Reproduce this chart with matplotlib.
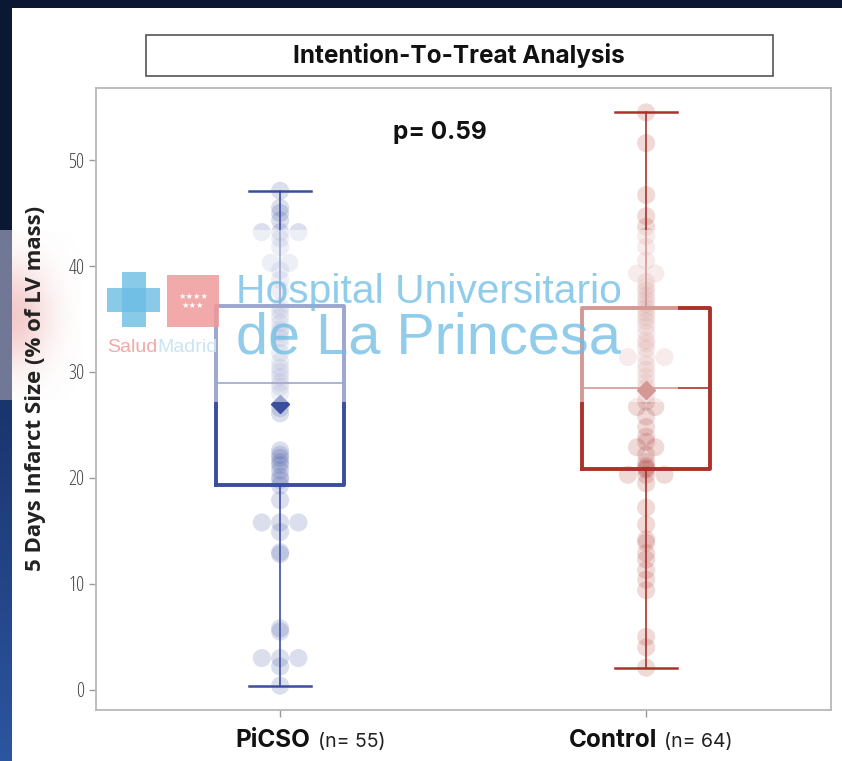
import numpy as np
import matplotlib
matplotlib.use("Agg")
import matplotlib.pyplot as plt
from matplotlib.patches import Rectangle

# values
groups = ["PiCSO", "Control"]
group_n = ["(n= 55)", "(n= 64)"]

picso = [47.1, 45.5, 45.0, 44.3, 43.2, 43.2, 43.2, 42.6, 41.8, 40.3, 40.3, 39.6, 38.7, 37.7,
         36.2, 35.8, 35.2, 34.6, 34.0, 33.7, 33.2, 32.7, 31.8, 31.0, 30.4, 30.0, 29.5,
         29.0,
         28.6, 28.0, 26.6, 26.1, 22.6, 22.2, 21.9, 21.5, 21.2, 20.7, 20.1, 19.8,
         19.3,
         17.9, 15.8, 15.8, 15.8, 14.9, 13.0, 12.8, 5.8, 5.5, 3.0, 3.0, 3.0, 2.2, 0.4]
control = [54.5, 51.6, 46.7, 44.7, 43.7, 42.8, 41.8, 40.5, 39.3, 39.3, 38.5, 38.0, 37.7, 37.2, 36.8, 36.4,
           36.0,
           35.6, 35.2, 34.8, 34.3, 33.7, 33.0, 32.7, 32.2, 31.4, 31.4, 31.4, 30.7, 30.2, 29.6, 29.0,
           28.5, 27.8, 27.2, 26.7, 26.7, 25.8, 24.8, 23.9, 23.4, 22.9, 22.9, 22.2, 21.5, 21.1, 20.9,
           20.8,
           20.3, 20.3, 20.3, 19.5, 17.2, 15.6, 14.2, 13.9, 12.9, 12.3, 11.3, 10.4, 9.4, 5.0, 4.0, 2.1]

# box summary as drawn in the reference
q1 = [19.3, 20.8]
medians = [29.0, 28.5]
q3 = [36.2, 36.0]
whisker_lo = [0.4, 2.1]
whisker_hi = [47.1, 54.5]
means = [27.0, 28.3]

p_value = 0.59
yticks = [0, 10, 20, 30, 40, 50]

colors = ["#3a4e9e", "#a9332b"]
W, H = 842, 761
NARROW = dict(family="Open Sans", fontstretch="condensed")
WIDE = ["Inter", "Lato"]

fig = plt.figure(figsize=(W / 100, H / 100), dpi=100)
fig.patch.set_facecolor("#0b1733")

# slide panel
fig.add_artist(Rectangle((12 / W, 0), 1 - 12 / W, (H - 8) / H, transform=fig.transFigure,
                         fc="white", ec="none", zorder=-2))

# left strip of the slide background
strip = fig.add_axes([0, 0, 12 / W, 1])
rows = np.zeros((H, 1, 3))
top = np.array([11, 24, 52]) / 255
mid = np.array([112, 120, 150]) / 255
lo_a = np.array([26, 52, 108]) / 255
lo_b = np.array([44, 86, 160]) / 255
rows[:230, 0] = top
rows[230:400, 0] = mid
t = np.linspace(0, 1, H - 400)[:, None]
rows[400:, 0] = lo_a * (1 - t) + lo_b * t
strip.imshow(rows, aspect="auto", extent=(0, 1, 0, H), origin="upper")
strip.axis("off")

# pink glow spilling on the panel
glow = fig.add_axes([12 / W, 1 - 400 / H, 70 / W, 170 / H])
gy, gx = np.mgrid[0:170, 0:70]
d = np.hypot(gx / 55.0, (gy - 85) / 75.0)
rgba = np.zeros((170, 70, 4))
rgba[..., :3] = np.array([232, 150, 150]) / 255
rgba[..., 3] = 0.5 * np.exp(-d ** 2 * 2.2)
glow.imshow(rgba, aspect="auto")
glow.axis("off")

ax = fig.add_axes([96 / W, 51 / H, 735 / W, 622 / H])
ax.set_xlim(-0.503, 1.505)
ax.set_ylim(-1.9, 56.8)

stats = []
for i in range(2):
    stats.append(dict(q1=q1[i], med=medians[i], q3=q3[i], whislo=whisker_lo[i],
                      whishi=whisker_hi[i], mean=means[i], fliers=[]))

for i, st in enumerate(stats):
    c = colors[i]
    ax.bxp([st], positions=[i], widths=0.35, showmeans=True, capwidths=[0.17],
           boxprops=dict(color=c, lw=2.8),
           medianprops=dict(color=c, lw=1.2),
           whiskerprops=dict(color=c, lw=1.2),
           capprops=dict(color=c, lw=1.8),
           meanprops=dict(marker="D", markerfacecolor=c, markeredgecolor=c, markersize=9))

# points, equal values spread side by side
for i, vals in enumerate([picso, control]):
    vals = np.array(vals)
    xs = np.full(len(vals), float(i))
    for v in np.unique(vals):
        idx = np.where(vals == v)[0]
        m = len(idx)
        if m > 1:
            xs[idx] = i + (np.arange(m) - (m - 1) / 2) * 0.05
    ax.scatter(xs, vals, s=170, color=colors[i], alpha=0.18, edgecolors="none", zorder=3)

for sp in ax.spines.values():
    sp.set_color("#b8b8b8")
    sp.set_linewidth(1.3)
ax.set_yticks(yticks)
ax.set_xticks([0, 1])
ax.set_xticklabels([])
ax.tick_params(axis="both", color="#999999", length=5, width=1)
ax.tick_params(axis="y", labelsize=14.5, labelcolor="#444444")
for lab in ax.get_yticklabels():
    lab.set_family(NARROW["family"])
    lab.set_fontstretch(NARROW["fontstretch"])

# category labels
name_dx = [22, 8]
for i in range(2):
    t1 = ax.annotate(groups[i], xy=(i, 0), xycoords=("data", "axes fraction"),
                     xytext=(name_dx[i], -22), textcoords="offset points",
                     ha="right", va="center", fontsize=17.5, fontweight="bold",
                     family=WIDE, color="#111111")
    ax.annotate(group_n[i], xy=(1, 0.5), xycoords=t1, xytext=(5, -1),
                textcoords="offset points", ha="left", va="center",
                fontsize=14, family=WIDE, color="#222222")

fig.text(36 / W, 1 - 388 / H, "5 Days Infarct Size (% of LV mass)", rotation=90,
         ha="center", va="center", fontsize=16, fontweight="bold",
         color="#222222", **NARROW)

# title box
fig.add_artist(Rectangle((146 / W, 1 - 76 / H), 627 / W, 41 / H, transform=fig.transFigure,
                         fill=False, ec="#555555", lw=1.2))
fig.text(459 / W, 1 - 56 / H, "Intention-To-Treat Analysis", ha="center", va="center",
         fontsize=17.5, fontweight="bold", family=WIDE, color="#111111")
fig.text(440 / W, 1 - 133 / H, f"p= {p_value}", ha="center", va="center",
         fontsize=17.5, fontweight="bold", family=WIDE, color="#111111")

# hospital watermark laid over the chart
fig.add_artist(Rectangle((100 / W, 1 - 402 / H), 578 / W, 172 / H, transform=fig.transFigure,
                         fc="white", ec="none", alpha=0.5, zorder=5))
wm_blue = "#6cbde4"
fig.add_artist(Rectangle((107 / W, 1 - 312 / H), 53 / W, 24 / H, transform=fig.transFigure,
                         fc=wm_blue, ec="none", alpha=0.8, zorder=6))
fig.add_artist(Rectangle((122 / W, 1 - 327 / H), 24 / W, 55 / H, transform=fig.transFigure,
                         fc=wm_blue, ec="none", alpha=0.8, zorder=6))
fig.add_artist(Rectangle((167 / W, 1 - 327 / H), 52 / W, 52 / H, transform=fig.transFigure,
                         fc="#f09a9a", ec="none", alpha=0.85, zorder=6))
fig.text(193 / W, 1 - 301 / H, "★★★★\n★★★", ha="center", va="center", fontsize=6,
         color="white", zorder=7, linespacing=1.0)
salud = fig.text(107 / W, 1 - 352 / H, "Salud", ha="left", va="baseline", fontsize=14,
                 family="Liberation Sans", color="#f2a8a8", zorder=7)
plt.annotate("Madrid", xy=(1, 0), xycoords=salud, va="bottom", ha="left",
             fontsize=14, family="Liberation Sans", color="#92cbe8", zorder=7,
             annotation_clip=False)
fig.text(236 / W, 1 - 303 / H, "Hospital Universitario", ha="left", va="baseline",
         fontsize=29.3, family="Liberation Sans", color=wm_blue, alpha=0.75, zorder=7)
fig.text(236 / W, 1 - 353 / H, "de La Princesa", ha="left", va="baseline",
         fontsize=41.5, family="Liberation Sans", color=wm_blue, alpha=0.75, zorder=7)

fig.savefig("out.png", dpi=100, facecolor=fig.get_facecolor())
